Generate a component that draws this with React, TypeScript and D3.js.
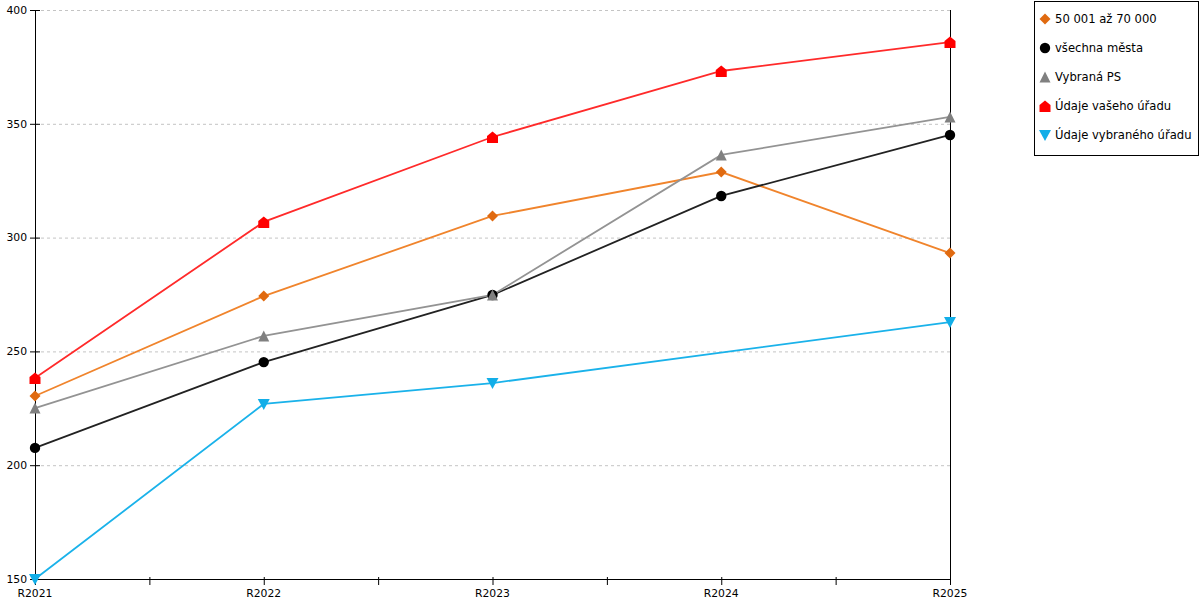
import * as d3 from "d3";

const W = 1200;
const H = 600;
const M = { top: 10, right: 250, bottom: 21, left: 35 };

const categories = ["R2021", "R2022", "R2023", "R2024", "R2025"];
const yTicks = [150, 200, 250, 300, 350, 400];

const group5070 = [230.4, 274.3, 309.5, 328.8, 293.2];
const allCities = [207.6, 245.3, 274.8, 318.3, 345.1];
const selectedPS = [225.1, 256.8, 274.8, 336.3, 353.0];
const yourOffice = [238.3, 306.9, 344.2, 373.2, 385.9];
const selectedOffice: (number | null)[] = [150, 226.9, 236.1, null, 262.9];

type Shape = "diamond" | "circle" | "triangle" | "house" | "down";

const series: { name: string; values: (number | null)[]; line: string; marker: string; shape: Shape }[] = [
	{ name: "50 001 až 70 000", values: group5070, line: "#f0842c", marker: "#e06a10", shape: "diamond" },
	{ name: "všechna města", values: allCities, line: "#222222", marker: "#000000", shape: "circle" },
	{ name: "Vybraná PS", values: selectedPS, line: "#939393", marker: "#808080", shape: "triangle" },
	{ name: "Údaje vašeho úřadu", values: yourOffice, line: "#ff2a2a", marker: "#ff0000", shape: "house" },
	{ name: "Údaje vybraného úřadu", values: selectedOffice, line: "#1ab2ea", marker: "#12aee8", shape: "down" },
];

function Marker({ shape, x, y, fill }: { shape: Shape; x: number; y: number; fill: string }) {
	const t = `translate(${x},${y})`;
	if (shape === "circle") return <circle cx={x} cy={y} r={5.2} fill={fill} />;
	let d = "";
	if (shape === "diamond") d = "M0,-5.5L5.5,0L0,5.5L-5.5,0Z";
	if (shape === "triangle") d = "M0,-5.5L5.5,5.5L-5.5,5.5Z";
	if (shape === "house") d = "M0,-5.5L5.5,-1L5.5,6L-5.5,6L-5.5,-1Z";
	if (shape === "down") d = "M-6,-5L6,-5L0,6Z";
	return <path d={d} transform={t} fill={fill} />;
}

export default function App() {
	const innerR = W - M.right;
	const innerB = H - M.bottom;

	const x = d3
		.scalePoint<string>()
		.domain(categories)
		.range([M.left, innerR]);
	const y = d3.scaleLinear().domain([150, 400]).range([innerB, M.top]);

	const step = x.step();
	const minorTicks = categories.slice(0, -1).map((c) => (x(c) ?? 0) + step / 2);

	const font = "'DejaVu Sans', Verdana, sans-serif";

	return (
		<div style={{ position: "fixed", left: 0, top: 0 }}>
			<svg width={W} height={H} style={{ display: "block", background: "#fff" }} fontFamily={font}>
				{/* grid */}
				{yTicks.slice(1).map((t) => (
					<line
						key={t}
						x1={M.left}
						x2={innerR}
						y1={y(t) + 0.5}
						y2={y(t) + 0.5}
						stroke="#c4c4c4"
						strokeDasharray="3,3"
					/>
				))}

				{/* axes */}
				<line x1={M.left + 0.5} x2={M.left + 0.5} y1={M.top} y2={innerB + 6} stroke="#000" />
				<line x1={innerR + 0.5} x2={innerR + 0.5} y1={M.top} y2={innerB + 6} stroke="#000" />
				<line x1={M.left} x2={innerR} y1={innerB + 0.5} y2={innerB + 0.5} stroke="#000" />

				{yTicks.map((t) => (
					<g key={t}>
						<line x1={M.left - 5} x2={M.left + 5} y1={y(t) + 0.5} y2={y(t) + 0.5} stroke="#000" />
						<text x={M.left - 8} y={y(t)} dy="0.35em" textAnchor="end" fontSize={10.8} fill="#000">
							{t}
						</text>
					</g>
				))}

				{categories.map((c) => (
					<g key={c}>
						<line x1={(x(c) ?? 0) + 0.5} x2={(x(c) ?? 0) + 0.5} y1={innerB - 2} y2={innerB + 6} stroke="#000" />
						<text x={x(c)} y={innerB + 18} textAnchor="middle" fontSize={10.8} fill="#000">
							{c}
						</text>
					</g>
				))}
				{minorTicks.map((m, i) => (
					<line key={i} x1={m + 0.5} x2={m + 0.5} y1={innerB - 2} y2={innerB + 6} stroke="#000" />
				))}

				{/* lines */}
				{series.map((s) => {
					const pts = s.values
						.map((v, i) => ({ c: categories[i], v }))
						.filter((p): p is { c: string; v: number } => p.v != null);
					const gen = d3
						.line<{ c: string; v: number }>()
						.x((p) => x(p.c) ?? 0)
						.y((p) => y(p.v));
					return <path key={s.name} d={gen(pts) ?? ""} fill="none" stroke={s.line} strokeWidth={1.8} />;
				})}

				{/* markers */}
				{series.map((s) =>
					s.values.map((v, i) =>
						v == null ? null : (
							<Marker key={s.name + i} shape={s.shape} x={x(categories[i]) ?? 0} y={y(v)} fill={s.marker} />
						)
					)
				)}

				{/* legend */}
				<rect x={1034.5} y={1.5} width={164} height={154} fill="#fff" stroke="#000" />
				{series.map((s, i) => (
					<g key={s.name} transform={`translate(1045,${19 + i * 29})`}>
						<Marker shape={s.shape} x={0} y={0} fill={s.marker} />
						<text x={10} y={0} dy="0.35em" fontSize={11.6} fill="#000">
							{s.name}
						</text>
					</g>
				))}
			</svg>
		</div>
	);
}
